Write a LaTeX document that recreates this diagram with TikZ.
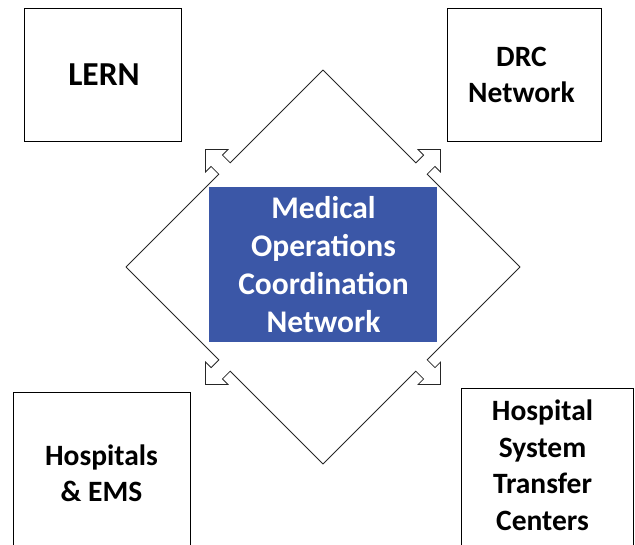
\documentclass[tikz,border=0pt]{standalone}
\usepackage{fontspec}
\setmainfont{Carlito}
\definecolor{mocblue}{HTML}{3B57A7}
\begin{document}
\begin{tikzpicture}[x=1pt,y=-1pt]
\tikzset{
 box/.style={draw=black, line width=0.9pt, inner sep=0pt},
 boxtext/.style={font=\bfseries\fontsize{29.5}{36.5}\selectfont, align=center, text=black, inner sep=0pt},
 centertext/.style={font=\bfseries\fontsize{31.5}{38}\selectfont, align=center, text=white, inner sep=0pt},
 diam/.style={draw=black!85, line width=0.8pt, line join=miter},
}
\useasboundingbox (0,0) rectangle (635,544);
\clip (0,0) rectangle (635,544);
% diamond with outward arrows on each side
\foreach \r in {0,90,180,270}{
 \draw[diam, shift={(323,267)}, rotate=\r] (-197,0) -- (-104.16,-92.84) -- (-111.94,-100.62) -- (-117.59,-94.97) -- (-117.59,-117.59) -- (-94.97,-117.59) -- (-100.62,-111.94) -- (-92.84,-104.16) -- (0,-197);
}
% centre
\node[fill=mocblue, minimum width=228pt, minimum height=155pt, inner sep=0pt] (moc) at (323,264.5) {};
\node[centertext] (moct) at (323.5,265) {Medical\\Operations\\Coordination\\Network};
% corner boxes
\node[box, minimum width=157pt, minimum height=133pt] (lern) at (102.5,74.5) {};
\node[boxtext, font=\bfseries\fontsize{33.5}{40}\selectfont] (lernt) at (104,75) {LERN};
\node[box, minimum width=154pt, minimum height=133pt] (drc) at (524,74.5) {};
\node[boxtext] (drct) at (521.5,75) {DRC\\Network};
\node[box, minimum width=177pt, minimum height=163pt] (hosp) at (101.5,473.5) {};
\node[boxtext] (hospt) at (101.5,473.5) {Hospitals\\\& EMS};
\node[box, minimum width=172pt, minimum height=164pt] (hst) at (547,470) {};
\node[boxtext] (hstt) at (542.5,465.5) {Hospital\\System\\Transfer\\Centers};
\end{tikzpicture}
\end{document}
